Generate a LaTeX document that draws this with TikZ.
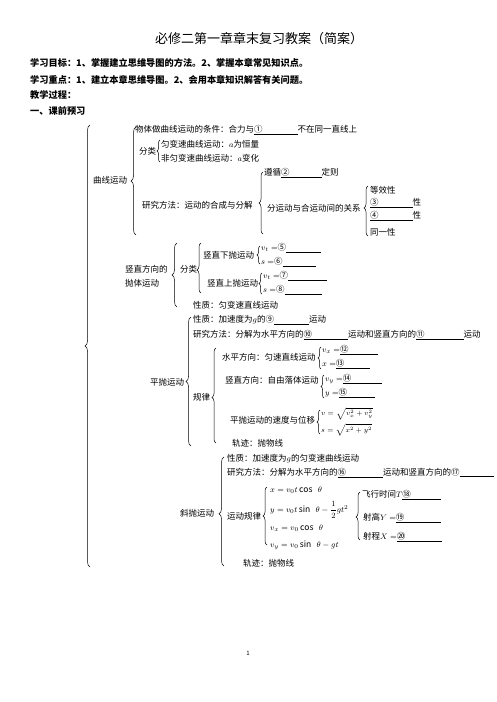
\documentclass[tikz,border=0pt]{standalone}
\usepackage{fontspec}
\setmainfont{Noto Sans CJK SC}
\usetikzlibrary{decorations.pathreplacing}
\tikzset{
  ttl/.style={inner sep=0pt,font=\fontsize{13}{15}\selectfont},
  hd/.style={anchor=west,inner sep=0pt,font=\fontsize{9.2}{11}\selectfont\bfseries},
  txt/.style={anchor=west,inner sep=0pt,font=\fontsize{8.5}{10}\selectfont},
  brc/.style={decorate,decoration={brace,amplitude=#1},line width=0.5pt},
  brc/.default=4pt,
}
\newcommand{\blank}[2][]{\underline{#1\hspace{#2}}}

\begin{document}
\begin{tikzpicture}[x=1pt,y=-1pt]
  \useasboundingbox[fill=white] (0,0) rectangle (496,702);
  % kopf
  \node[ttl] (title) at (259,39) {必修二第一章章末复习教案（简案）};
  \node[hd] (ziel) at (30,63) {学习目标：1、掌握建立思维导图的方法。2、掌握本章常见知识点。};
  \node[hd] (fokus) at (30,80) {学习重点：1、建立本章思维导图。2、会用本章知识解答有关问题。};
  \node[hd] (ablauf) at (30,95) {教学过程：};
  \node[hd] (vorab) at (30,111) {一、课前预习};
  \draw[brc=5pt] (90,567) -- (90,125);
  % quxian
  \node[txt] (qx) at (93,180) {曲线运动};
  \draw[brc=5pt] (136,235) -- (136,127);
  \node[txt] (qxbed) at (135,130) {物体做曲线运动的条件：合力与\blank[①]{35pt}不在同一直线上};
  \node[txt] (qxfl) at (139,151) {分类};
  \draw[brc=3pt] (160,162) -- (160,140);
  \node[txt] (qxfl1) at (161,144) {匀变速曲线运动：$a$为恒量};
  \node[txt] (qxfl2) at (161,158) {非匀变速曲线运动：$a$变化};
  \node[txt] (qxmeth) at (142,205) {研究方法：运动的合成与分解};
  \draw[brc] (263,234) -- (263,172);
  \node[txt] (zunxun) at (264,173) {遵循\blank[②]{32pt}定则};
  \node[txt] (guanxi) at (267,208) {分运动与合运动间的关系};
  \draw[brc,decoration={aspect=0.56}] (368,236) -- (368,186);
  \node[txt] (dx) at (370,190) {等效性};
  \node[txt] (dl) at (370,203) {\blank[③]{34pt}性};
  \node[txt] (ds) at (370,216) {\blank[④]{34pt}性};
  \node[txt] (ty) at (370,232) {同一性};
  % shuzhi
  \node[txt] (sz1) at (125,269) {竖直方向的};
  \node[txt] (sz2) at (125,283) {抛体运动};
  \draw[brc=5pt] (177,307) -- (177,243);
  \node[txt] (szfl) at (180,269) {分类};
  \draw[brc,decoration={aspect=0.46}] (201,293) -- (201,243);
  \node[txt] (xp) at (203,255) {竖直下抛运动};
  \draw[brc=3pt] (260,264) -- (260,246);
  \node[txt] (xpv) at (261,248) {$v_t=$⑤\blank{35pt}};
  \node[txt] (xps) at (261,262) {$s=$⑥\blank{33pt}};
  \node[txt] (sp) at (207,283) {竖直上抛运动};
  \draw[brc=3pt] (262,294) -- (262,273);
  \node[txt] (spv) at (263,276) {$v_t=$⑦\blank{39pt}};
  \node[txt] (sps) at (263,290) {$s=$⑧\blank{37pt}};
  \node[txt] (szxz) at (193,305) {性质：匀变速直线运动};
  % pingpao
  \node[txt] (pp) at (150,382) {平抛运动};
  \draw[brc=5pt] (191,446) -- (191,317);
  \node[txt] (ppxz) at (193,320) {性质：加速度为$g$的⑨\blank{35pt}运动};
  \node[txt] (ppmeth) at (193,335) {研究方法：分解为水平方向的\blank[⑩]{36pt}运动和竖直方向的\blank[⑪]{39pt}运动};
  \node[txt] (ppgl) at (193,397) {规律};
  \draw[brc,decoration={aspect=0.48}] (216,443) -- (216,348);
  \node[txt] (ppsp) at (222,357) {水平方向：匀速直线运动};
  \draw[brc=3pt] (321,369) -- (321,347);
  \node[txt] (ppvx) at (322,350) {$v_x=$\blank[⑫]{29pt}};
  \node[txt] (ppx) at (322,364) {$x=$\blank[⑬]{26pt}};
  \node[txt] (ppsz) at (225,380) {竖直方向：自由落体运动};
  \draw[brc=3pt] (324,398) -- (324,375);
  \node[txt] (ppvy) at (325,379) {$v_y=$\blank[⑭]{31pt}};
  \node[txt] (ppy) at (325,393) {$y=$\blank[⑮]{28pt}};
  \node[txt] (ppvs) at (230,420) {平抛运动的速度与位移};
  \draw[brc=3pt] (320,434) -- (320,410);
  \node[txt,font=\fontsize{7.5}{9}\selectfont] (ppv) at (321,414) {$v=\sqrt{v_x^{2}+v_y^{2}}$};
  \node[txt,font=\fontsize{7.5}{9}\selectfont] (pps) at (321,430) {$s=\sqrt{x^{2}+y^{2}}$};
  \node[txt] (ppgj) at (232,443) {轨迹：抛物线};
  % xiepao
  \node[txt] (xpao) at (180,513) {斜抛运动};
  \draw[brc=5pt,decoration={aspect=0.48}] (224,566) -- (224,457);
  \node[txt] (xpxz) at (227,459) {性质：加速度为$g$的匀变速曲线运动};
  \node[txt] (xpmeth) at (227,473) {研究方法：分解为水平方向的\blank[⑯]{37pt}运动和竖直方向的⑰\blank{34pt}};
  \node[txt] (xpgl) at (227,516) {运动规律};
  \draw[brc] (267,545) -- (267,487);
  \node[txt] (xpx) at (270,490) {$x=v_0t\cos\ \ \theta$};
  \node[txt] (xpy) at (270,510) {$y=v_0t\sin\ \ \theta-\displaystyle\frac{1}{2}gt^2$};
  \node[txt] (xpvx) at (270,528) {$v_x=v_0\cos\ \ \theta$};
  \node[txt] (xpvy) at (270,545) {$v_y=v_0\sin\ \ \theta-gt$};
  \draw[brc,decoration={aspect=0.48}] (360,540) -- (360,492);
  \node[txt] (xpT) at (362,495) {飞行时间$T$\blank[⑱]{30pt}};
  \node[txt] (xpY) at (363,518) {射高$Y=$\blank[⑲]{37pt}};
  \node[txt] (xpX) at (363,537) {射程$X=$\blank[⑳]{37pt}};
  \node[txt] (xpgj) at (243,563) {轨迹：抛物线};
  % fuss
  \node[inner sep=0pt,font=\fontsize{6}{7}\selectfont] (seite) at (248,653) {1};
\end{tikzpicture}
\end{document}
